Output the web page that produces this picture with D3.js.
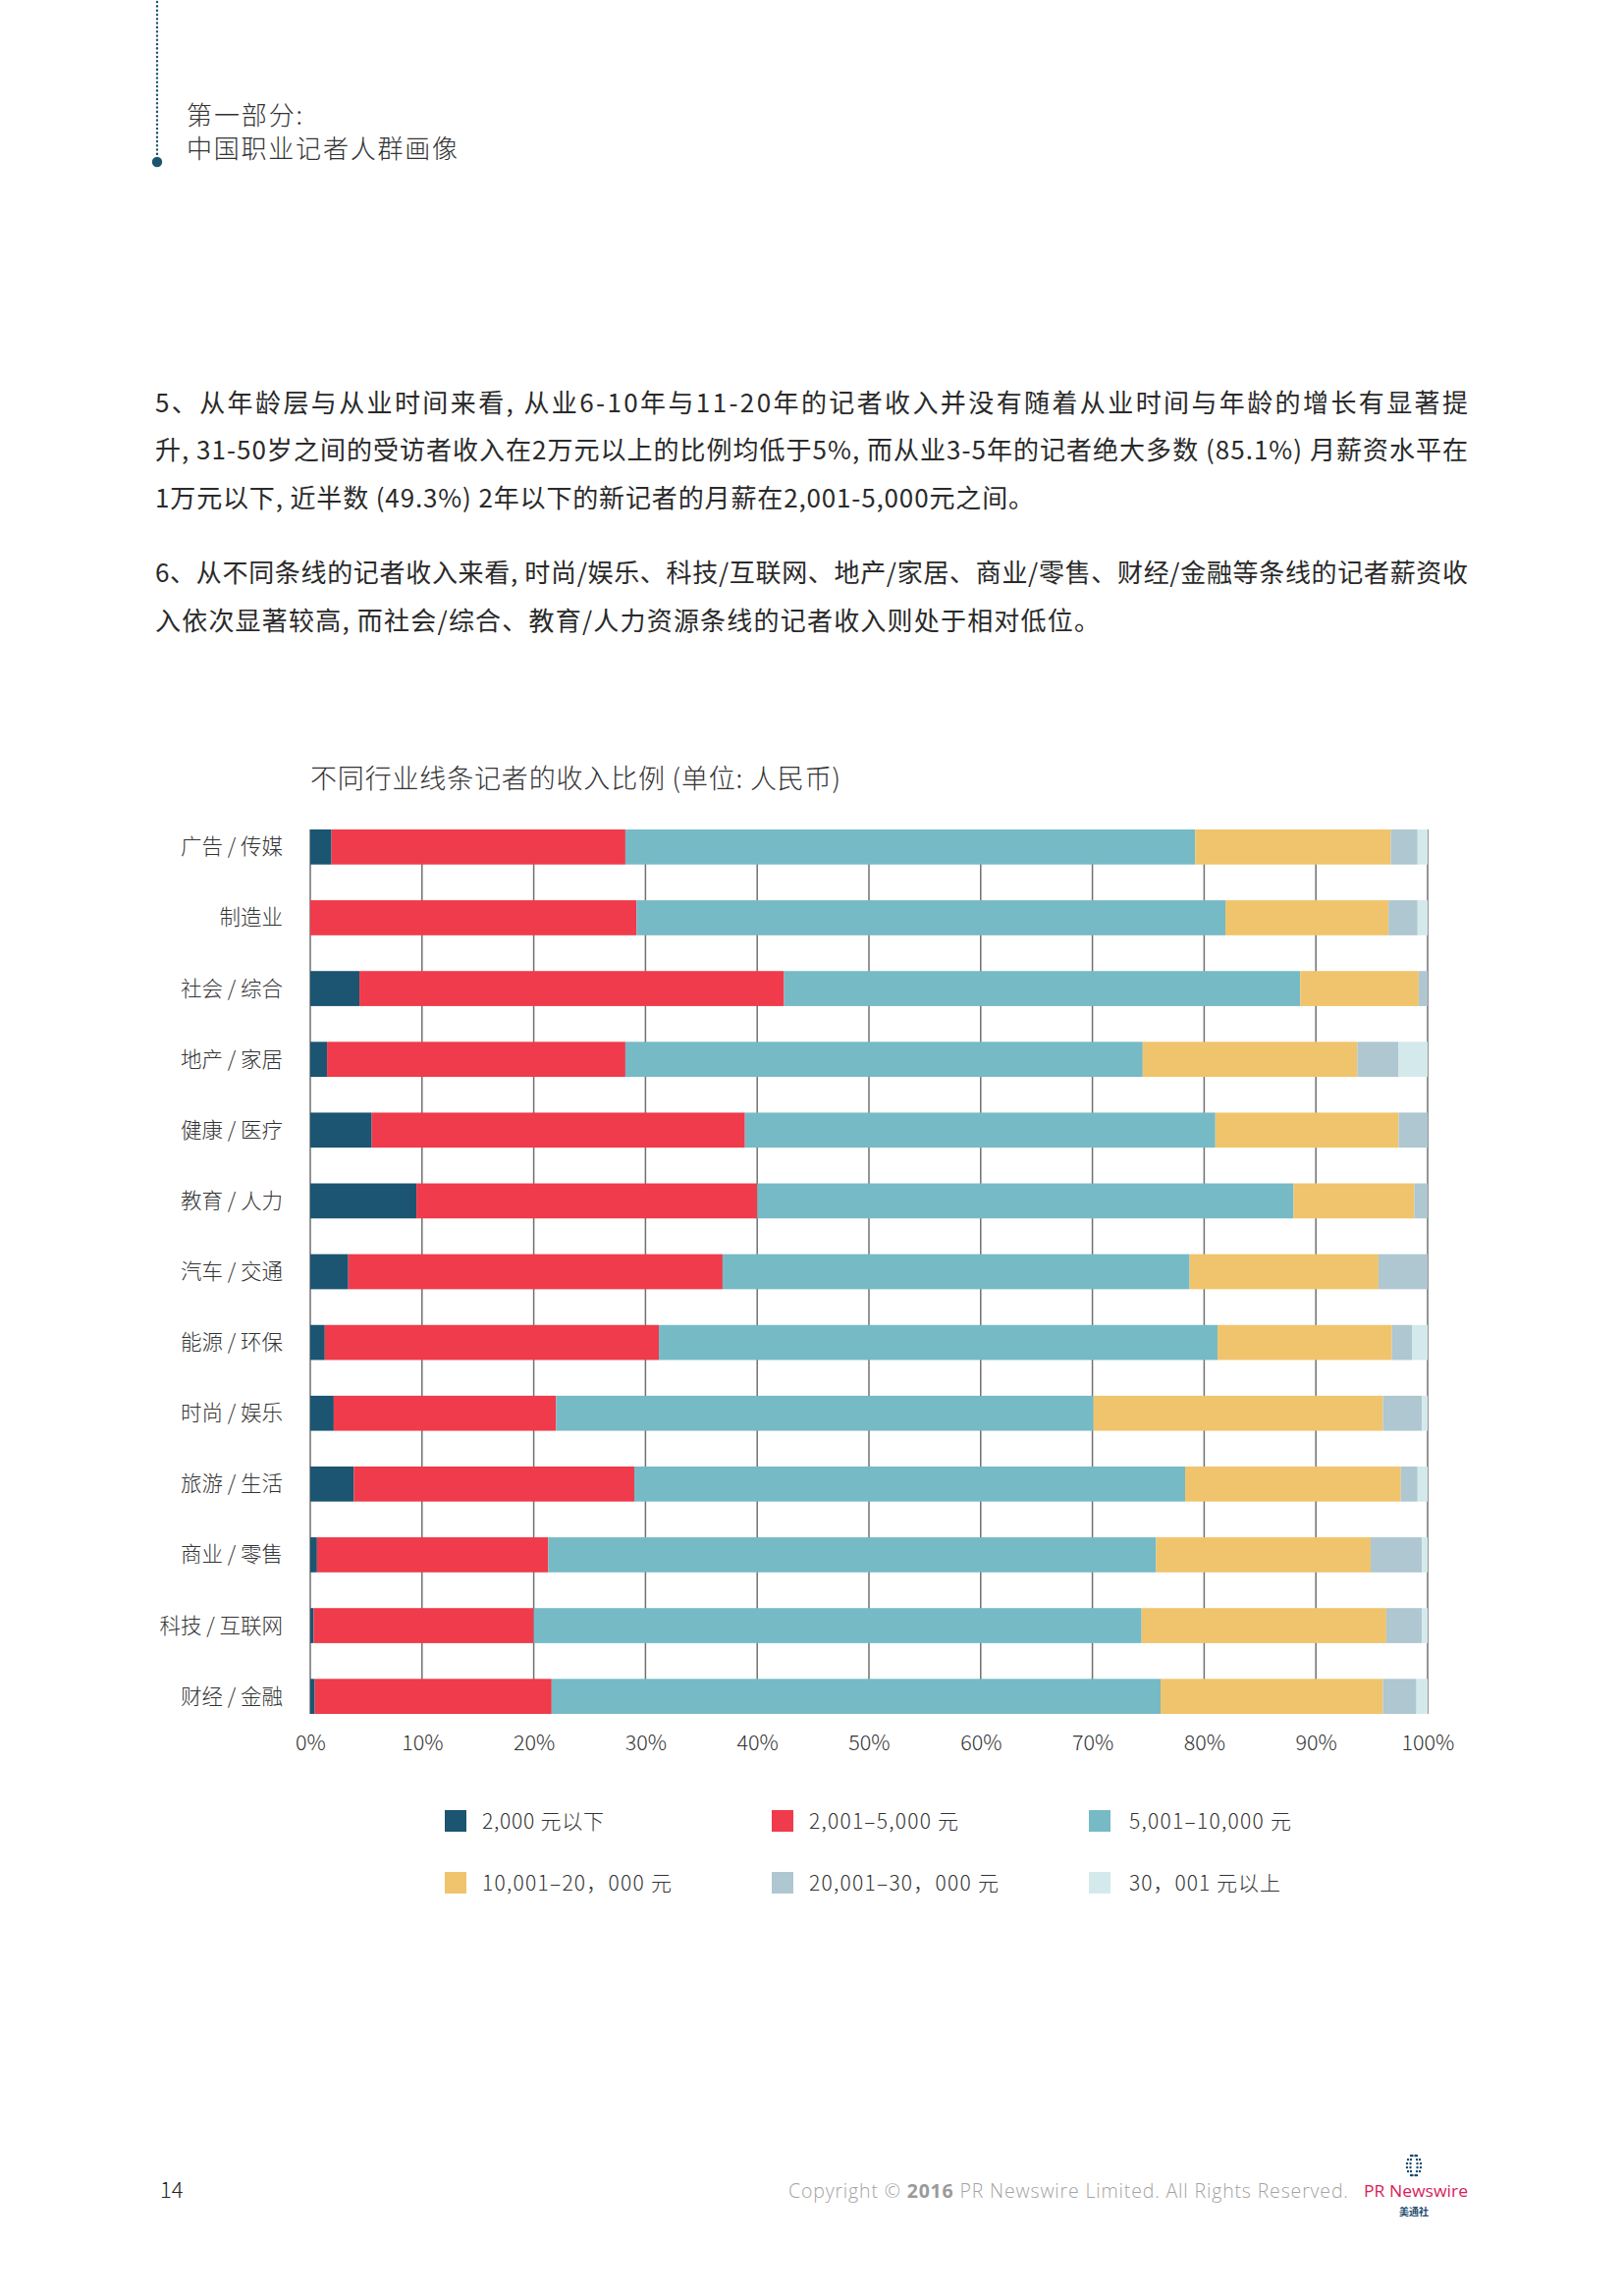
<!DOCTYPE html>
<html>
<head>
<meta charset="utf-8">
<script src="https://cdn.jsdelivr.net/npm/d3@7"></script>
<style>
  html, body { margin: 0; padding: 0; background: #fff; }
  svg { display: block; }
  .cjk { font-family: "Noto Sans CJK SC", "Noto Sans", sans-serif; }
</style>
</head>
<body>
<svg id="page" width="1654" height="2339"></svg>
<script>
// ---------------- DATA ----------------
const categories = ["广告 / 传媒","制造业","社会 / 综合","地产 / 家居","健康 / 医疗","教育 / 人力","汽车 / 交通","能源 / 环保","时尚 / 娱乐","旅游 / 生活","商业 / 零售","科技 / 互联网","财经 / 金融"];
const seriesNames = ["2,000 元以下","2,001–5,000 元","5,001–10,000 元","10,001–20，000 元","20,001–30，000 元","30，001 元以上"];
const below2000   = [1.9, 0.0, 4.4, 1.5, 5.5, 9.5, 3.4, 1.3, 2.1, 3.9, 0.6, 0.3, 0.4];
const s2001_5000  = [26.3, 29.2, 38.0, 26.7, 33.4, 30.5, 33.5, 29.9, 19.9, 25.1, 20.7, 19.7, 21.2];
const s5001_10000 = [51.0, 52.7, 46.2, 46.3, 42.1, 48.0, 41.8, 50.0, 48.1, 49.3, 54.4, 54.4, 54.5];
const s10001_20000= [17.5, 14.6, 10.6, 19.2, 16.4, 10.8, 16.9, 15.6, 25.9, 19.3, 19.2, 21.9, 19.9];
const s20001_30000= [2.4, 2.6, 0.8, 3.7, 2.6, 1.2, 4.4, 1.8, 3.5, 1.5, 4.6, 3.2, 3.0];
const above30001  = [0.9, 0.9, 0.0, 2.6, 0.0, 0.0, 0.0, 1.4, 0.5, 0.9, 0.5, 0.5, 1.0];
const xTicks = [0,10,20,30,40,50,60,70,80,90,100];
const colors = ["#1b5571","#ef3b4b","#76bac6","#f0c46c","#aec7d0","#d4e9eb"];

const chartTitle = "不同行业线条记者的收入比例 (单位: 人民币)";
const headerLines = ["第一部分:", "中国职业记者人群画像"];
const paraLines = [
  "5、从年龄层与从业时间来看, 从业6-10年与11-20年的记者收入并没有随着从业时间与年龄的增长有显著提",
  "升, 31-50岁之间的受访者收入在2万元以上的比例均低于5%, 而从业3-5年的记者绝大多数 (85.1%) 月薪资水平在",
  "1万元以下, 近半数 (49.3%) 2年以下的新记者的月薪在2,001-5,000元之间。",
  "6、从不同条线的记者收入来看, 时尚/娱乐、科技/互联网、地产/家居、商业/零售、财经/金融等条线的记者薪资收",
  "入依次显著较高, 而社会/综合、教育/人力资源条线的记者收入则处于相对低位。"
];

// ---------------- LAYOUT ----------------
const headerLen = [118, 276];
const paraY = [420, 468, 517, 593, 642];
const paraLen = [1337, 1337, 895, 1337, 962];
const legX = [453, 786, 1109];
const legY = [1844, 1907];
const legLen = [124, 152, 165, 193, 193, 154];

// ---------------- BUILD ----------------
const svg = d3.select("#page");
svg.append("rect").attr("width",1654).attr("height",2339).attr("fill","#fff");

// header decoration
svg.append("line").attr("x1",160).attr("x2",160).attr("y1",2).attr("y2",160)
  .attr("stroke","#1b5571").attr("stroke-width",2.4)
  .attr("stroke-dasharray","0.1,4.2").attr("stroke-linecap","round");
svg.append("circle").attr("cx",160).attr("cy",165).attr("r",5.2).attr("fill","#1b5571");
svg.append("g").selectAll("text").data(headerLines).join("text")
  .attr("class","cjk").attr("x",190).attr("y",(d,i)=>127+i*34)
  .attr("font-size",26).attr("font-weight",300).attr("fill","#333")
  .attr("textLength",(d,i)=>headerLen[i]).attr("lengthAdjust","spacing").text(d=>d);

// paragraphs
svg.append("g").selectAll("text").data(paraLines).join("text")
  .attr("class","cjk").attr("x",158).attr("y",(d,i)=>paraY[i])
  .attr("font-size",26).attr("fill","#2a2a2a")
  .attr("textLength",(d,i)=>paraLen[i]).attr("lengthAdjust","spacing")
  .text(d=>d);

// chart title
svg.append("text").attr("class","cjk").attr("x",316).attr("y",803)
  .attr("font-size",27).attr("font-weight",300).attr("fill","#333")
  .attr("textLength",540).attr("lengthAdjust","spacing").text(chartTitle);

// scales
const x = d3.scaleLinear().domain([0,100]).range([316,1454]);
const y = d3.scaleBand().domain(categories).range([845,1746]).paddingInner(0.505).paddingOuter(0);

// table for stacking
const seriesArrays = [below2000, s2001_5000, s5001_10000, s10001_20000, s20001_30000, above30001];
const table = categories.map((c,i)=>{
  const row = {cat:c};
  seriesNames.forEach((s,j)=>row[s]=seriesArrays[j][i]);
  return row;
});
const stacked = d3.stack().keys(seriesNames)(table);

// grid lines
svg.append("g").selectAll("line").data(xTicks).join("line")
  .attr("x1",d=>x(d)).attr("x2",d=>x(d))
  .attr("y1",y.range()[0]).attr("y2",y.range()[1])
  .attr("stroke","#707070").attr("stroke-width",1.5);

// bars
svg.append("g").selectAll("g").data(stacked).join("g")
  .attr("fill",(d,i)=>colors[i])
  .selectAll("rect").data(d=>d).join("rect")
  .attr("x",d=>x(d[0])).attr("width",d=>Math.max(0,x(d[1])-x(d[0])))
  .attr("y",d=>y(d.data.cat)).attr("height",y.bandwidth());

// category labels
svg.append("g").selectAll("text").data(categories).join("text")
  .attr("class","cjk").attr("x",288).attr("y",d=>y(d)+y.bandwidth()/2+7.5)
  .attr("text-anchor","end").attr("font-size",21.5).attr("font-weight",300)
  .attr("fill","#333").text(d=>d);

// x axis labels
const xAxis = d3.axisBottom(x).tickValues(xTicks).tickSize(0).tickPadding(22).tickFormat(d=>d+"%");
const ax = svg.append("g").attr("transform",`translate(0,${y.range()[1]})`).call(xAxis);
ax.select(".domain").remove();
ax.selectAll("text").attr("font-family","'Noto Sans CJK SC', sans-serif").attr("font-size",21.5)
  .attr("font-weight",300).attr("fill","#333");

// legend
const leg = svg.append("g").selectAll("g").data(seriesNames).join("g")
  .attr("transform",(d,i)=>`translate(${legX[i%3]},${legY[Math.floor(i/3)]})`);
leg.append("rect").attr("width",22).attr("height",22).attr("fill",(d,i)=>colors[i]);
leg.append("text").attr("class","cjk").attr("x",(d,i)=>i%3===2?41:38).attr("y",18.5)
  .attr("font-size",21).attr("font-weight",300).attr("fill","#333")
  .attr("textLength",(d,i)=>legLen[i]).attr("lengthAdjust","spacing").text(d=>d);

// footer
svg.append("text").attr("x",163).attr("y",2239).attr("font-family","'Noto Sans CJK SC', sans-serif")
  .attr("font-size",22).attr("font-weight",300).attr("fill","#222").text("14");
const cp = svg.append("text").attr("x",803).attr("y",2239).attr("font-family","'Open Sans', sans-serif")
  .attr("font-size",19.5).attr("font-weight",300).attr("fill","#a3a3a3").attr("textLength",570).attr("lengthAdjust","spacing");
cp.append("tspan").text("Copyright © ");
cp.append("tspan").attr("font-weight",700).attr("fill","#9a9a9a").text("2016");
cp.append("tspan").text(" PR Newswire Limited. All Rights Reserved.");
svg.append("text").attr("x",1389).attr("y",2238).attr("font-family","'Open Sans', sans-serif")
  .attr("font-size",17).attr("fill","#d81e5b").attr("textLength",106).attr("lengthAdjust","spacingAndGlyphs").text("PR Newswire");
svg.append("text").attr("class","cjk").attr("x",1440).attr("y",2257).attr("text-anchor","middle")
  .attr("font-size",10).attr("font-weight",700).attr("fill","#1b4a6b").text("美通社");
// globe icon (dots)
const gIcon = svg.append("g").attr("fill","#1b4a6b");
for (let r=0;r<6;r++){
  const cy = 2196 + r*4;
  const w = [3,6,7,7,6,3][r];
  [-w,-w/2,w/2,w].forEach(dx=>gIcon.append("circle").attr("cx",1440+dx).attr("cy",cy).attr("r",1.2));
}
</script>
</body>
</html>
